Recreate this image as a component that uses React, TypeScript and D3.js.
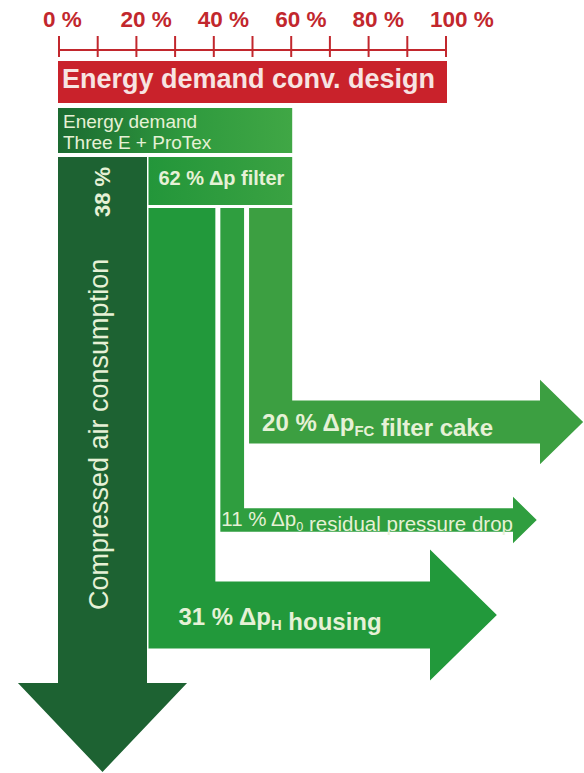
import React from "react";
import * as d3 from "d3";

// ---- data ----
const axisTickValues = [0, 10, 20, 30, 40, 50, 60, 70, 80, 90, 100];
const axisLabelValues = [0, 20, 40, 60, 80, 100];
const conventionalDemand = 100; // % energy demand, conventional design
const newDesignDemand = 60; // % energy demand, Three E + ProTex
const mainShareKeys = ["air", "filter"];
const mainShareValues = [38, 62]; // % of new design demand
const filterPartKeys = ["housing", "residual", "cake"];
const filterPartValues = [31, 11, 20]; // % (sum = 62)

// ---- layout (positions only) ----
const W = 584;
const H = 773;
const FONT = "'Liberation Sans', Arial, Helvetica, sans-serif";
const RED = "#c9222b";
const RED_TXT = "#c2272d";
const DARK = "#1d6232";
const LIGHT_TXT = "#e6f1d6";
const partColors: Record<string, string> = {
  housing: "#22993b",
  residual: "#2f9e3f",
  cake: "#3c9f41",
};
const bandCenterY: Record<string, number> = { housing: 615, residual: 520, cake: 422 };
const headStartX: Record<string, number> = { housing: 430, residual: 513, cake: 540 };
const airHeadStartY = 683;

export default function App() {
  const x = d3.scaleLinear().domain([0, 100]).range([59, 446]);

  const axisY = 50;
  const barTop = 61;
  const barBottom = 103;
  const hdrTop = 108;
  const hdrBottom = 153;
  const colTop = 157;
  const filterBoxBottom = 205;
  const subTop = 208;

  const newLeft = x(0) - 1;
  const newRight = x(newDesignDemand) + 1;
  const share = d3.scaleLinear().domain([0, 100]).range([0, newRight - newLeft]);

  const airW = share(mainShareValues[0]);
  const airX0 = newLeft;
  const airX1 = newLeft + airW;
  const filterX0 = airX1 + 1.5;
  const filterX1 = newRight;

  const gap = 5;
  const filterTotal = d3.sum(filterPartValues);
  const partScale = d3
    .scaleLinear()
    .domain([0, filterTotal])
    .range([0, filterX1 - filterX0 - gap * (filterPartValues.length - 1)]);

  let cursor = filterX0;
  const parts = filterPartKeys.map((k, i) => {
    const w = partScale(filterPartValues[i]);
    const p = { key: k, value: filterPartValues[i], x0: cursor, x1: cursor + w, w };
    cursor += w + gap;
    return p;
  });

  const line = d3.line<[number, number]>();

  const lArrow = (p: { key: string; x0: number; x1: number; w: number }) => {
    const t = p.w; // band thickness
    const cy = bandCenterY[p.key];
    const hs = headStartX[p.key];
    const top = cy - t / 2;
    const bot = cy + t / 2;
    const half = t * 0.98;
    const pts: [number, number][] = [
      [p.x0, subTop],
      [p.x1, subTop],
      [p.x1, top],
      [hs, top],
      [hs, cy - half],
      [hs + t, cy],
      [hs, cy + half],
      [hs, bot],
      [p.x0, bot],
    ];
    return line(pts) + "Z";
  };

  const airCx = (airX0 + airX1) / 2;
  const airHalf = airW * 0.95;
  const airPath =
    line([
      [airX0, colTop],
      [airX1, colTop],
      [airX1, airHeadStartY],
      [airCx + airHalf, airHeadStartY],
      [airCx, airHeadStartY + airW],
      [airCx - airHalf, airHeadStartY],
      [airX0, airHeadStartY],
    ] as [number, number][]) + "Z";

  const sub = (s: string, fs: number) => (
    <>
      <tspan fontSize={fs * 0.62} dy={fs * 0.22}>
        {s}
      </tspan>
      <tspan dy={-fs * 0.22}></tspan>
    </>
  );

  const housing = parts[0];
  const residual = parts[1];
  const cake = parts[2];

  return (
    <svg
      width={W}
      height={H}
      style={{ position: "absolute", left: 0, top: 0, background: "#fff" }}
      fontFamily={FONT}
    >
      <defs>
        <linearGradient id="hdr" x1="0" x2="1" y1="0" y2="0">
          <stop offset="0%" stopColor="#1b6a31" />
          <stop offset="55%" stopColor="#2f9a3e" />
          <stop offset="100%" stopColor="#40a745" />
        </linearGradient>
        <linearGradient id="flt" x1="0" x2="1" y1="0" y2="0">
          <stop offset="0%" stopColor="#23963a" />
          <stop offset="100%" stopColor="#3aa242" />
        </linearGradient>
      </defs>

      {/* axis */}
      <line x1={x(0)} x2={x(100)} y1={axisY} y2={axisY} stroke={RED_TXT} strokeWidth={2} />
      {axisTickValues.map((v) => (
        <line key={v} x1={x(v)} x2={x(v)} y1={36} y2={57} stroke={RED_TXT} strokeWidth={2} />
      ))}
      {axisLabelValues.map((v) => (
        <text
          key={v}
          x={x(v) - 16}
          y={27}
          fontSize={22.5}
          fontWeight="bold"
          fill={RED_TXT}
        >
          {v} %
        </text>
      ))}

      {/* conventional design bar */}
      <rect
        x={x(0) - 1}
        y={barTop}
        width={x(conventionalDemand) - x(0) + 2}
        height={barBottom - barTop}
        fill={RED}
      />
      <text x={x(0) + 3} y={88} fontSize={27} fontWeight="bold" fill="#f7e4e2">
        Energy demand conv. design
      </text>

      {/* new design header */}
      <rect x={newLeft} y={hdrTop} width={newRight - newLeft} height={hdrBottom - hdrTop} fill="url(#hdr)" />
      <text x={newLeft + 5} y={128} fontSize={19} fill={LIGHT_TXT}>
        Energy demand
      </text>
      <text x={newLeft + 5} y={149} fontSize={19} fill={LIGHT_TXT}>
        Three E + ProTex
      </text>

      {/* compressed air */}
      <path d={airPath} fill={DARK} />
      <text
        transform={`translate(${airCx + 6},610) rotate(-90)`}
        fontSize={27}
        fill={LIGHT_TXT}
      >
        Compressed air consumption
      </text>
      <text
        transform={`translate(${airCx + 8},217) rotate(-90)`}
        fontSize={22}
        fontWeight="bold"
        fill={LIGHT_TXT}
      >
        {mainShareValues[0]} %
      </text>

      {/* filter box */}
      <rect
        x={filterX0}
        y={colTop}
        width={filterX1 - filterX0}
        height={filterBoxBottom - colTop}
        fill="url(#flt)"
      />
      <text x={filterX0 + 10} y={185} fontSize={20} fontWeight="bold" fill={LIGHT_TXT}>
        {mainShareValues[1]} % Δp filter
      </text>

      {/* filter parts */}
      {parts.map((p) => (
        <path key={p.key} d={lArrow(p)} fill={partColors[p.key]} />
      ))}

      <text x={cake.x0 + 13} y={bandCenterY.cake + 9} fontSize={24} fontWeight="bold" fill={LIGHT_TXT}>
        {cake.value} % Δp{sub("FC", 24)} filter cake
      </text>
      <text x={residual.x0 + 1} y={bandCenterY.residual + 6} fontSize={20.5} fill={LIGHT_TXT}>
        {residual.value} % Δp{sub("0", 20.5)} residual pressure drop
      </text>
      <text x={housing.x0 + 30} y={bandCenterY.housing + 10} fontSize={24} fontWeight="bold" fill={LIGHT_TXT}>
        {housing.value} % Δp{sub("H", 24)} housing
      </text>
    </svg>
  );
}
